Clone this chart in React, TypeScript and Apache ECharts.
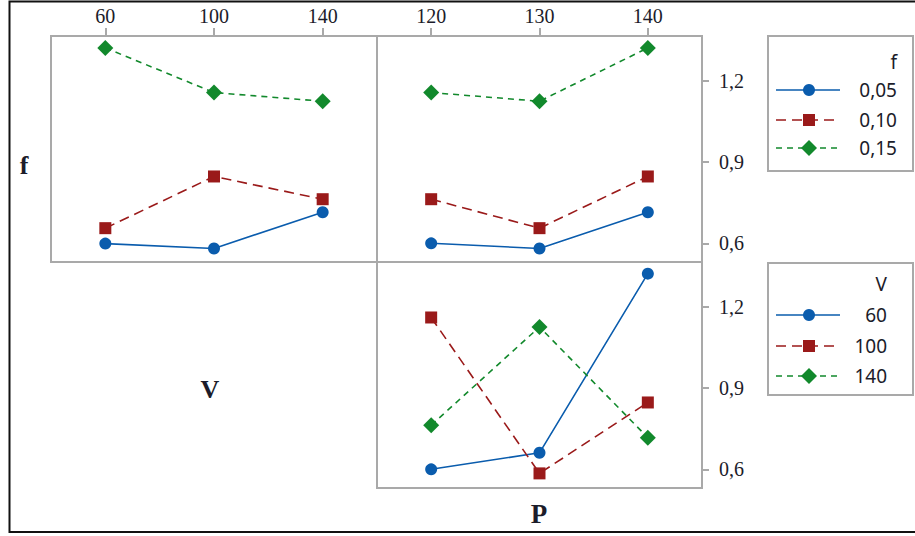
import React, { useEffect, useRef } from "react";
import * as echarts from "echarts";

// Factor levels
const vLevels = ["60", "100", "140"];
const pLevels = ["120", "130", "140"];
const fLegend = ["0,05", "0,10", "0,15"];
const vLegend = ["60", "100", "140"];

// Mean response: f traces plotted against V (top-left panel)
const fByV_005 = [0.599, 0.581, 0.715];
const fByV_010 = [0.656, 0.847, 0.763];
const fByV_015 = [1.322, 1.157, 1.125];

// Mean response: f traces plotted against P (top-right panel)
const fByP_005 = [0.6, 0.581, 0.715];
const fByP_010 = [0.763, 0.656, 0.847];
const fByP_015 = [1.157, 1.125, 1.322];

// Mean response: V traces plotted against P (bottom-right panel)
const vByP_60 = [0.6, 0.661, 1.323];
const vByP_100 = [1.161, 0.585, 0.847];
const vByP_140 = [0.763, 1.126, 0.717];

// Shared response scale
const yTicks = [0.6, 0.9, 1.2];
const yMin = 0.531;
const yMax = 1.366;

const SERIF = "'Liberation Serif', 'Times New Roman', serif";
const SANS = "'Noto Sans', 'Open Sans', sans-serif";
const BORDER = "#a9a9a9";
const TEXT = "#1c1c2a";

const traceStyles = [
  { color: "#0a5cad", symbol: "circle", size: 12, dash: "solid" as any },
  { color: "#9a1a1a", symbol: "rect", size: 12, dash: [10, 6] as any },
  { color: "#12892c", symbol: "diamond", size: 16, dash: [6, 5] as any },
];

const fmt = (v: number) => v.toFixed(1).replace(".", ",");

function makeSeries(name: string, data: number[], k: number, axis: number) {
  const s = traceStyles[k];
  return {
    name,
    type: "line",
    xAxisIndex: axis,
    yAxisIndex: axis,
    data,
    symbol: s.symbol,
    symbolSize: s.size,
    itemStyle: { color: s.color },
    lineStyle: { color: s.color, width: 1.6, type: s.dash },
    z: 3 + k,
  };
}

function legendBlock(top: number, height: number, title: string, labels: string[], textRight: number, rowYs: number[], titleY: number) {
  const children: any[] = [
    {
      type: "rect",
      shape: { x: 768, y: top, width: 145, height },
      style: { fill: "#fff", stroke: BORDER, lineWidth: 2 },
    },
    {
      type: "text",
      x: textRight,
      y: titleY,
      style: { text: title, fill: TEXT, font: `19px ${SANS}`, align: "right", verticalAlign: "middle" },
    },
  ];
  labels.forEach((lab, k) => {
    const s = traceStyles[k];
    const y = rowYs[k];
    children.push({
      type: "line",
      shape: { x1: 776, y1: y, x2: 840, y2: y },
      style: { stroke: s.color, lineWidth: 1.6, lineDash: s.dash === "solid" ? null : s.dash },
    });
    if (s.symbol === "circle") {
      children.push({ type: "circle", shape: { cx: 809, cy: y, r: 6 }, style: { fill: s.color } });
    } else if (s.symbol === "rect") {
      children.push({ type: "rect", shape: { x: 803, y: y - 6, width: 12, height: 12 }, style: { fill: s.color } });
    } else {
      children.push({
        type: "polygon",
        shape: { points: [[809, y - 8], [817, y], [809, y + 8], [801, y]] },
        style: { fill: s.color },
      });
    }
    children.push({
      type: "text",
      x: textRight,
      y,
      style: { text: lab, fill: TEXT, font: `19px ${SANS}`, align: "right", verticalAlign: "middle" },
    });
  });
  return { type: "group", children };
}

export default function App() {
  const ref = useRef<HTMLDivElement>(null);

  useEffect(() => {
    if (!ref.current) return;
    const chart = echarts.init(ref.current, null, { renderer: "svg" });

    const topAxis = (gridIndex: number, data: string[]) => ({
      gridIndex,
      type: "category",
      data,
      position: "top",
      boundaryGap: true,
      axisLine: { show: false },
      axisTick: { show: true, alignWithLabel: true, length: 8, lineStyle: { color: BORDER, width: 2 } },
      axisLabel: { margin: 10, fontFamily: SERIF, fontSize: 20, color: TEXT },
      splitLine: { show: false },
    });

    const rightAxis = (gridIndex: number) => ({
      gridIndex,
      type: "value",
      min: yMin,
      max: yMax,
      position: "right",
      axisLine: { show: false },
      axisTick: { show: true, customValues: yTicks, length: 7, lineStyle: { color: BORDER, width: 2 } },
      axisLabel: { customValues: yTicks, margin: 17, fontFamily: SERIF, fontSize: 20, color: TEXT, formatter: fmt },
      splitLine: { show: false },
    });

    const gridBox = { show: true, borderColor: BORDER, borderWidth: 2, backgroundColor: "transparent" };

    chart.setOption({
      animation: false,
      backgroundColor: "#fff",
      grid: [
        { ...gridBox, left: 51, top: 36, width: 326, height: 226 },
        { ...gridBox, left: 377, top: 36, width: 325, height: 226 },
        { ...gridBox, left: 377, top: 262, width: 325, height: 226 },
      ],
      xAxis: [
        topAxis(0, vLevels),
        topAxis(1, pLevels),
        { gridIndex: 2, type: "category", data: pLevels, boundaryGap: true, show: false },
      ],
      yAxis: [
        { gridIndex: 0, type: "value", min: yMin, max: yMax, show: false, splitLine: { show: false } },
        rightAxis(1),
        rightAxis(2),
      ],
      series: [
        makeSeries("f 0,05 vs V", fByV_005, 0, 0),
        makeSeries("f 0,10 vs V", fByV_010, 1, 0),
        makeSeries("f 0,15 vs V", fByV_015, 2, 0),
        makeSeries("f 0,05 vs P", fByP_005, 0, 1),
        makeSeries("f 0,10 vs P", fByP_010, 1, 1),
        makeSeries("f 0,15 vs P", fByP_015, 2, 1),
        makeSeries("V 60 vs P", vByP_60, 0, 2),
        makeSeries("V 100 vs P", vByP_100, 1, 2),
        makeSeries("V 140 vs P", vByP_140, 2, 2),
      ],
      graphic: [
        // outer frame (open on the right edge)
        {
          type: "rect",
          shape: { x: 9.5, y: 1.5, width: 920, height: 530.5 },
          style: { fill: "none", stroke: "#111", lineWidth: 2 },
          silent: true,
        },
        {
          type: "text",
          x: 24,
          y: 165,
          style: { text: "f", fill: TEXT, font: `bold 26px ${SERIF}`, align: "center", verticalAlign: "middle" },
        },
        {
          type: "text",
          x: 210,
          y: 389,
          style: { text: "V", fill: TEXT, font: `bold 26px ${SERIF}`, align: "center", verticalAlign: "middle" },
        },
        {
          type: "text",
          x: 539,
          y: 514,
          style: { text: "P", fill: TEXT, font: `bold 27px ${SERIF}`, align: "center", verticalAlign: "middle" },
        },
        legendBlock(36, 135, "f", fLegend, 897, [90, 120, 148], 62),
        legendBlock(263, 132, "V", vLegend, 887, [315, 346, 376], 284),
      ],
    });

    return () => chart.dispose();
  }, []);

  return <div ref={ref} style={{ position: "absolute", left: 0, top: 0, width: 915, height: 536 }} />;
}
